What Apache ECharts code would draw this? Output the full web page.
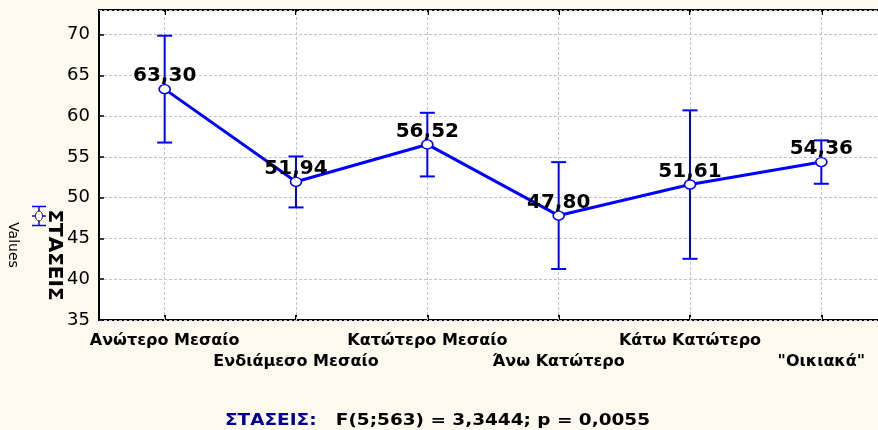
<!DOCTYPE html>
<html>
<head>
<meta charset="utf-8">
<script src="https://cdn.jsdelivr.net/npm/echarts@6/dist/echarts.min.js"></script>
<style>
html,body{margin:0;padding:0;background:#fdf9ee;}
#c{width:878px;height:430px;}
</style>
</head>
<body>
<div id="c"></div>
<script>
var categories = ['Ανώτερο Μεσαίο', 'Ενδιάμεσο Μεσαίο', 'Κατώτερο Μεσαίο', 'Άνω Κατώτερο', 'Κάτω Κατώτερο', '"Οικιακά"'];
var means = [63.30, 51.94, 56.52, 47.80, 51.61, 54.36];
var lower = [56.75, 48.80, 52.60, 41.25, 42.50, 51.70];
var upper = [69.85, 55.05, 60.40, 54.35, 60.70, 57.02];
var yTicks = [35, 40, 45, 50, 55, 60, 65, 70];
var statsLabel = 'ΣΤΑΣΕΙΣ:';
var statsText = 'F(5;563) = 3,3444; p = 0,0055';

var chart = echarts.init(document.getElementById('c'));
var errData = categories.map(function (c, i) { return [i, lower[i], upper[i]]; });
var blue = '#0000ff';
var option = {
  backgroundColor: '#fdf9ee',
  animation: false,
  grid: {
    left: 99, top: 10, width: 788, height: 310, outerBoundsMode: 'none', containLabel: false,
    show: true, backgroundColor: '#ffffff', borderColor: '#000000', borderWidth: 2
  },
  xAxis: [{
    type: 'category', data: categories, boundaryGap: true, position: 'bottom',
    axisLine: { show: false },
    axisTick: { show: true, alignWithLabel: true, inside: true, length: 5, lineStyle: { color: '#000', width: 2 } },
    axisLabel: {
      interval: 0, margin: 10, lineHeight: 21, hideOverlap: false,
      fontFamily: 'DejaVu Sans', fontWeight: 'bold', fontSize: 16, color: '#000',
      formatter: function (v, i) { return i % 2 ? '\n' + v : v; }
    },
    splitLine: { show: false }
  }, {
    type: 'category', data: categories, boundaryGap: true, position: 'top',
    axisLine: { show: false },
    axisTick: { show: true, alignWithLabel: true, inside: true, length: 5, lineStyle: { color: '#000', width: 2 } },
    axisLabel: { show: false },
    splitLine: { show: false }
  }],
  yAxis: {
    type: 'value', min: 35, max: 73, interval: 5,
    axisLine: { show: false },
    axisTick: { show: true, inside: true, length: 5, lineStyle: { color: '#000', width: 1.5 } },
    axisLabel: {
      margin: 9, fontFamily: 'DejaVu Sans', fontSize: 18, color: '#000', showMaxLabel: false,
      formatter: function (v) { return yTicks.indexOf(v) >= 0 ? String(v) : ''; }
    },
    splitLine: { show: true, lineStyle: { color: '#c4c4c4', type: [3, 2], width: 1 } }
  },
  series: [{
    type: 'custom',
    z: 2,
    data: errData,
    renderItem: function (params, api) {
      var x = api.coord([api.value(0), api.value(1)])[0];
      var yl = api.coord([api.value(0), api.value(1)])[1];
      var yu = api.coord([api.value(0), api.value(2)])[1];
      var hw = 7.5;
      var st = { stroke: blue, lineWidth: 2 };
      return {
        type: 'group',
        children: [
          { type: 'line', shape: { x1: x, y1: yl, x2: x, y2: yu }, style: st },
          { type: 'line', shape: { x1: x - hw, y1: yl, x2: x + hw, y2: yl }, style: st },
          { type: 'line', shape: { x1: x - hw, y1: yu, x2: x + hw, y2: yu }, style: st }
        ]
      };
    },
    markLine: {
      silent: true, z: 1, symbol: ['none', 'none'], label: { show: false },
      lineStyle: { color: '#c4c4c4', type: [3, 2], width: 1 },
      data: categories.map(function (c) { return { xAxis: c }; })
    }
  }, {
    type: 'line',
    z: 3,
    data: means,
    lineStyle: { color: blue, width: 3 },
    symbol: 'circle', symbolSize: [11, 9],
    itemStyle: { color: '#ffffff', borderColor: blue, borderWidth: 1.5 },
    label: {
      show: true, position: 'inside', offset: [0, -13],
      fontFamily: 'DejaVu Sans', fontWeight: 'bold', fontSize: 20, color: '#000',
      formatter: function (p) { return p.value.toFixed(2).replace('.', ','); }
    }
  }],
  graphic: [
    {
      type: 'text', x: 13, y: 245, rotation: -Math.PI / 2,
      style: { text: 'Values', fontFamily: 'DejaVu Sans', fontSize: 14, fill: '#000', textAlign: 'center', textVerticalAlign: 'middle' }
    },
    {
      type: 'text', x: 54, y: 255, rotation: -Math.PI / 2,
      style: { text: 'ΣΤΑΣΕΙΣ', fontFamily: 'DejaVu Sans', fontWeight: 'bold', fontSize: 20, fill: '#000', textAlign: 'center', textVerticalAlign: 'middle' }
    },
    {
      type: 'group', x: 39, y: 216,
      children: [
        { type: 'line', shape: { x1: 0, y1: -9.5, x2: 0, y2: 9.5 }, style: { stroke: blue, lineWidth: 1.5 } },
        { type: 'line', shape: { x1: -7, y1: -9.5, x2: 7, y2: -9.5 }, style: { stroke: blue, lineWidth: 1.5 } },
        { type: 'line', shape: { x1: -7, y1: 9.5, x2: 7, y2: 9.5 }, style: { stroke: blue, lineWidth: 1.5 } },
        { type: 'line', shape: { x1: -7, y1: 0, x2: 7, y2: 0 }, style: { stroke: blue, lineWidth: 1.5 } },
        { type: 'ellipse', shape: { cx: 0, cy: 0, rx: 3.5, ry: 5 }, style: { fill: '#fff', stroke: '#222', lineWidth: 1 } }
      ]
    },
    {
      type: 'text', x: 225, y: 421, scaleX: 1.23,
      style: {
        text: '{a|' + statsLabel + '}{b|   ' + statsText + '}',
        textVerticalAlign: 'middle',
        rich: {
          a: { fontFamily: 'DejaVu Sans', fontWeight: 'bold', fontSize: 15, fill: '#000099', color: '#000099' },
          b: { fontFamily: 'DejaVu Sans', fontWeight: 'bold', fontSize: 15, fill: '#000', color: '#000' }
        }
      }
    }
  ]
};
chart.setOption(option);
</script>
</body>
</html>
